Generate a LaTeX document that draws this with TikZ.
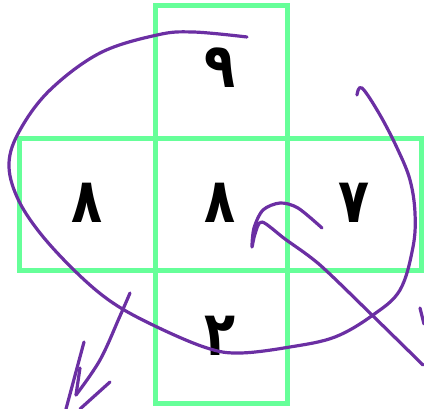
\documentclass[tikz,border=0pt]{standalone}
\usepackage{fontspec}
\newfontfamily\arabicdigits[Script=Arabic,FakeStretch=0.82]{DejaVu Sans}
\definecolor{boxgreen}{RGB}{102,255,153}
\definecolor{ink}{RGB}{107,47,163}
\begin{document}
\begin{tikzpicture}[x=1pt,y=-1pt,
  cell/.style={draw=boxgreen,line width=5pt,inner sep=0pt,minimum width=#1},
  digit/.style={font=\arabicdigits\bfseries\fontsize{62}{62}\selectfont,inner sep=0pt},
  pen/.style={draw=ink,line width=3.2pt,line cap=round,line join=round}]
\useasboundingbox (0,0) rectangle (424,409);
\node[cell=132pt,minimum height=133pt] (top) at (221,72.5) {};
\node[cell=136pt,minimum height=132pt] (left) at (87,205) {};
\node[cell=132pt,minimum height=132pt] (mid) at (221,205) {};
\node[cell=134pt,minimum height=132pt] (right) at (354,205) {};
\node[cell=132pt,minimum height=133pt] (bottom) at (221,337.5) {};
\node[digit] (d9) at (220,68) {٩};
\node[digit] (d8a) at (87,203) {٨};
\node[digit] (d8b) at (220,203) {٨};
\node[digit] (d7) at (354,203) {٧};
\node[digit] (d2) at (220,336) {٢};
% big loop
\draw[pen] plot[smooth,tension=0.6] coordinates {(247,37) (193,32) (157,35) (100,53) (50,90) (20,130) (9,163) (17,197) (40,233) (77,273) (113,303) (157,327) (207,348) (240,353) (290,347) (335,337) (373,315) (400,290) (413,247) (415,213) (410,180) (398,150) (380,115) (362,88) (357,95)};
% arrow into centre
\draw[pen] plot[smooth,tension=0.5] coordinates {(423,365) (373,316) (320,265) (285,239) (262,222) (255,234) (252,247) (254,228) (263,210) (280,203) (298,208) (322,228)};
\draw[pen] (420,308) -- (424,324);
% bottom-left arrow
\draw[pen] plot[smooth,tension=0.6] coordinates {(130,293) (120,316) (100,360) (76,395)};
\draw[pen] (76,395) -- (80,368);
\draw[pen] (84,342) -- (66,409);
\draw[pen] (110,382) -- (80,409);
\end{tikzpicture}
\end{document}
